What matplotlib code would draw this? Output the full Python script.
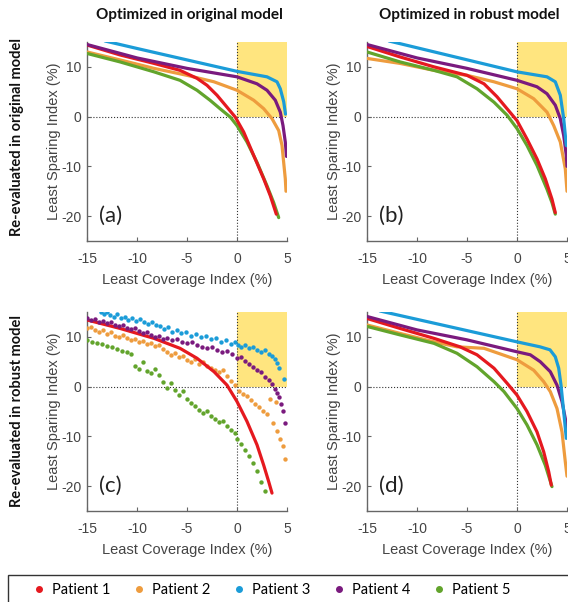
import matplotlib
matplotlib.use('Agg')
import matplotlib.pyplot as plt
from matplotlib.lines import Line2D
from matplotlib.patches import Rectangle

plt.rcParams['axes.unicode_minus'] = False

#### colours / names ####
patients = ['Patient 1', 'Patient 2', 'Patient 3', 'Patient 4', 'Patient 5']
colors = ['#E5191F', '#EE9C3E', '#1B9CD8', '#7A1A7E', '#62A42C']

col_titles = ['Optimized in original model', 'Optimized in robust model']
row_titles = ['Re-evaluated in original model', 'Re-evaluated in robust model']
panel_tags = ['(a)', '(b)', '(c)', '(d)']

#### (a) original / original ####
a_red_x = [-15, -11.7, -8.3, -5.7, -4, -3, -2, -1, -0.17, 0.67, 1.67, 2.67, 3.33, 3.93]
a_red_y = [14.4, 12.4, 10.7, 9.3, 7.7, 6.3, 4.3, 1.9, -0.1, -3.1, -7.8, -12.5, -15.9, -19.6]
a_orange_x = [-15, -11.7, -8.3, -5, -2.3, 0, 1.67, 2.67, 3.5, 4.17, 4.5, 4.83, 4.9]
a_orange_y = [13.0, 11.4, 9.7, 8.3, 7.0, 5.3, 3.3, 1.6, -0.4, -2.8, -5.8, -12.5, -15.0]
a_blue_x = [-13.2, -10, -5, 0, 3, 4, 4.33, 4.67, 4.85]
a_blue_y = [15.2, 13.7, 11.4, 9.1, 8.0, 7.0, 5.6, 3.0, 0.5]
a_purple_x = [-15, -10, -5, 0, 2, 3, 3.83, 4.33, 4.6, 4.83, 4.95]
a_purple_y = [14.5, 11.8, 9.7, 8.0, 6.6, 5.3, 3.3, 0.9, -1.8, -5.1, -8.0]
a_green_x = [-15, -11.7, -8.3, -5.7, -4, -2.7, -1.7, -0.67, 0, 1, 2, 3, 3.67, 4.17]
a_green_y = [12.7, 11.0, 9.0, 7.3, 5.3, 3.3, 1.6, -0.1, -1.8, -5.1, -9.2, -13.9, -17.3, -20.3]

#### (b) robust optimized / original ####
b_red_x = [-15, -11.7, -8.3, -5, -3.3, -2, -1, 0, 1, 2, 2.83, 3.5, 3.83]
b_red_y = [14.1, 12.0, 10.0, 8.3, 6.6, 4.0, 1.6, -0.8, -4.5, -8.5, -12.5, -16.6, -19.3]
b_orange_x = [-15, -11.7, -8.3, -5, -2.3, 0, 1.67, 3, 3.67, 4.33, 4.83, 5.0]
b_orange_y = [11.7, 10.7, 9.3, 8.3, 7.0, 5.6, 3.6, 0.9, -1.8, -5.1, -10.5, -15.0]
b_blue_x = [-12.8, 0, 3, 3.83, 4.33, 4.67, 4.93]
b_blue_y = [15.2, 9.0, 8.0, 7.0, 4.3, -0.4, -5.8]
b_purple_x = [-15, -10, -5, 0, 2, 3, 3.83, 4.33, 4.67, 4.93, 5.0]
b_purple_y = [14.5, 11.8, 9.7, 7.3, 6.0, 4.6, 2.3, -0.4, -3.8, -7.8, -10.0]
b_green_x = [-15, -11.7, -8.3, -6, -4, -2.3, -1, 0, 1, 2, 3, 3.5, 3.83]
b_green_y = [13.0, 11.0, 9.3, 8.0, 5.6, 2.9, 0.3, -2.4, -5.8, -9.8, -14.6, -17.3, -19.6]

#### (c) original optimized / robust (scattered) ####
c_red_x = [-15, -11.7, -8.3, -5.7, -4, -2.3, -1, 0, 1, 2, 2.67, 3.17, 3.5]
c_red_y = [13.4, 11.7, 9.7, 7.7, 5.7, 3.0, 0.3, -3.0, -7.0, -11.7, -15.8, -19.1, -21.4]
c_orange_x = [-15.0, -14.6, -14.2, -13.8, -13.4, -13.0, -12.6, -12.2, -11.8, -11.4,
              -11.0, -10.6, -10.2, -9.8, -9.4, -9.0, -8.6, -8.2, -7.8, -7.4,
              -7.0, -6.6, -6.2, -5.8, -5.4, -5.0, -4.6, -4.2, -3.8, -3.4,
              -3.0, -2.6, -2.2, -1.8, -1.4, -1.0, -0.6, -0.2, 0.2, 0.6,
              1.0, 1.4, 1.8, 2.2, 2.6, 3.0, 3.3, 3.6, 4.0, 4.3,
              4.6, 4.8, 3.9]
c_orange_y = [11.7, 12.0, 11.4, 11.0, 11.3, 10.6, 10.9, 10.2, 9.9, 10.3,
              9.7, 9.3, 9.6, 9.0, 9.2, 8.6, 8.8, 8.1, 8.4, 7.6,
              7.0, 6.4, 6.8, 5.9, 6.2, 5.4, 5.0, 5.6, 4.6, 4.9,
              4.2, 3.8, 3.3, 2.9, 3.4, 2.1, 1.2, 0.4, -0.8, -1.4,
              -1.9, -2.6, -3.4, -4.0, -4.8, -5.6, -2.4, -7.4, -9.0, -10.6,
              -12.0, -14.6, -3.0]
c_blue_x = [-13.6, -13.3, -13.0, -12.7, -12.3, -12.0, -11.6, -11.2, -10.9, -10.5,
            -10.1, -9.7, -9.3, -8.9, -8.5, -8.1, -7.7, -7.3, -6.9, -6.5,
            -6.0, -5.6, -5.1, -4.6, -4.1, -3.6, -3.1, -2.6, -2.1, -1.6,
            -1.1, -0.6, -0.2, 0.1, 0.4, 0.8, 1.2, 1.6, 2.0, 2.4,
            2.8, 3.2, 3.5, 3.8, 4.0, 4.2, 4.7]
c_blue_y = [15.0, 14.6, 14.9, 14.3, 14.0, 14.5, 13.7, 13.9, 13.4, 13.8,
            13.2, 13.5, 12.9, 12.6, 13.0, 12.4, 12.1, 11.6, 11.9, 11.0,
            11.3, 10.7, 10.9, 10.2, 10.5, 9.9, 10.1, 9.5, 9.7, 9.0,
            9.3, 8.6, 8.9, 8.4, 8.0, 8.3, 7.7, 7.9, 7.3, 7.0,
            7.4, 6.6, 6.2, 5.6, 4.7, 3.8, 1.6]
c_purple_x = [-15.0, -14.6, -14.2, -13.8, -13.4, -13.0, -12.6, -12.2, -11.8, -11.4,
              -11.0, -10.6, -10.2, -9.8, -9.4, -9.0, -8.6, -8.2, -7.8, -7.4,
              -7.0, -6.5, -6.0, -5.5, -5.0, -4.5, -4.0, -3.5, -3.0, -2.5,
              -2.0, -1.5, -1.0, -0.5, 0.0, 0.4, 0.8, 1.2, 1.6, 2.0,
              2.4, 2.8, 3.2, 3.5, 3.8, 4.0, 4.2, 4.4, 4.6, 4.8]
c_purple_y = [13.7, 13.3, 13.5, 13.0, 13.2, 12.7, 12.9, 12.4, 12.1, 12.3,
              11.8, 11.5, 11.7, 11.1, 10.8, 11.0, 10.4, 10.0, 10.2, 9.6,
              9.8, 9.3, 9.5, 8.9, 8.7, 8.9, 8.3, 8.0, 7.7, 7.9,
              7.3, 7.0, 7.2, 6.5, 5.7, 5.9, 5.2, 4.6, 4.0, 3.4,
              2.9, 2.0, 1.3, 0.6, -0.4, -1.2, -2.0, -3.4, -4.8, -7.4]
c_green_x = [-15.0, -14.5, -14.0, -13.5, -13.0, -12.5, -12.0, -11.5, -11.0, -10.6,
             -10.2, -9.8, -9.4, -9.0, -8.6, -8.2, -7.8, -7.4, -7.0, -6.6,
             -6.2, -5.8, -5.4, -5.0, -4.6, -4.2, -3.8, -3.4, -3.0, -2.6,
             -2.2, -1.8, -1.4, -1.0, -0.6, -0.2, 0.0, 0.4, 0.8, 1.2,
             1.6, 2.0, 2.4, 2.8]
c_green_y = [9.4, 9.0, 8.8, 8.5, 8.2, 7.9, 7.6, 7.2, 7.0, 6.6,
             4.2, 3.6, 5.0, 3.2, 2.8, 3.6, 2.4, 1.0, -0.2, 0.8,
             -0.6, -1.6, -0.9, -2.4, -3.2, -3.8, -4.6, -5.4, -4.9, -6.0,
             -6.6, -7.2, -7.0, -8.0, -8.8, -9.4, -10.6, -11.6, -12.8, -14.0,
             -15.4, -17.0, -19.2, -21.0]

#### (d) robust / robust ####
d_red_x = [-15, -11.7, -8.3, -5.7, -4, -2.3, -1, 0, 1, 2, 2.67, 3.17, 3.43]
d_red_y = [13.7, 11.7, 9.7, 8.0, 6.4, 3.7, 0.7, -1.7, -5.0, -9.1, -13.1, -17.1, -19.8]
d_orange_x = [-15, -11.7, -8.3, -6, -3.3, 0, 1.67, 2.67, 3.33, 4, 4.5, 4.83, 5.0]
d_orange_y = [12.4, 10.7, 9.0, 8.0, 7.7, 5.4, 3.3, 1.0, -1.0, -4.4, -9.1, -15.1, -18.0]
d_blue_x = [-13.7, 0, 2.3, 3.3, 3.83, 4.17, 4.4, 4.67, 4.93]
d_blue_y = [15.2, 9.0, 8.0, 7.4, 6.0, 3.7, 0.3, -5.0, -10.4]
d_purple_x = [-15, -10, -5, 0, 1.33, 2.33, 3.33, 4, 4.5, 4.83, 5.0]
d_purple_y = [14.1, 11.4, 9.4, 7.0, 6.4, 5.0, 3.0, 0.3, -3.0, -6.4, -10.0]
d_green_x = [-15, -11.7, -8.3, -6, -4, -2.3, -1.3, 0, 1, 2, 2.83, 3.5]
d_green_y = [12.1, 10.4, 8.7, 6.7, 4.0, 1.0, -1.0, -4.4, -7.7, -11.7, -15.8, -20.1]

# series in each panel: patient 1..5
panels = [
    [(a_red_x, a_red_y), (a_orange_x, a_orange_y), (a_blue_x, a_blue_y), (a_purple_x, a_purple_y), (a_green_x, a_green_y)],
    [(b_red_x, b_red_y), (b_orange_x, b_orange_y), (b_blue_x, b_blue_y), (b_purple_x, b_purple_y), (b_green_x, b_green_y)],
    [(c_red_x, c_red_y), (c_orange_x, c_orange_y), (c_blue_x, c_blue_y), (c_purple_x, c_purple_y), (c_green_x, c_green_y)],
    [(d_red_x, d_red_y), (d_orange_x, d_orange_y), (d_blue_x, d_blue_y), (d_purple_x, d_purple_y), (d_green_x, d_green_y)],
]
draw_order = [1, 4, 0, 3, 2]

W, H = 568, 602
fig = plt.figure(figsize=(W / 100, H / 100), dpi=100)

boxes = [(87, 42), (367, 42), (87, 312), (367, 312)]
ax_w, ax_h = 200, 199

tick_font = dict(family='Liberation Sans', size=10, color='#444444')
lab_font = dict(family='Liberation Sans', size=10.5, color='#444444')

for k, (px, py) in enumerate(boxes):
    ax = fig.add_axes([px / W, 1 - (py + ax_h) / H, ax_w / W, ax_h / H])
    ax.set_xlim(-15, 5)
    ax.set_ylim(-25, 15)
    ax.fill_between([0, 5], 0, 15, color='#FFE57F', zorder=0, lw=0)
    ax.axvline(0, color='#333333', ls=':', lw=0.8, zorder=1)
    ax.axhline(0, color='#333333', ls=':', lw=0.8, zorder=1)

    for i in draw_order:
        xs, ys = panels[k][i]
        if k == 2 and i != 0:
            ax.scatter(xs, ys, s=10, color=colors[i], zorder=3, lw=0)
        else:
            ax.plot(xs, ys, color=colors[i], lw=2.3, zorder=3, solid_capstyle='round',
                    solid_joinstyle='round')

    ax.text(-13.8, -20, panel_tags[k], fontsize=16, family='Lato', color='#222222', va='center')

    for s in ['top', 'right']:
        ax.spines[s].set_visible(False)
    for s in ['left', 'bottom']:
        ax.spines[s].set_color('#666666')
        ax.spines[s].set_linewidth(1.0)
    ax.set_xticks([-15, -10, -5, 0, 5])
    ax.set_yticks([-20, -10, 0, 10])
    ax.tick_params(direction='in', length=3, color='#666666')
    ax.tick_params(axis='x', pad=8)
    ax.tick_params(axis='y', pad=4)
    for lbl in ax.get_xticklabels() + ax.get_yticklabels():
        lbl.set_fontfamily(tick_font['family'])
        lbl.set_fontsize(tick_font['size'])
        lbl.set_color(tick_font['color'])
    ax.set_xlabel('Least Coverage Index (%)', labelpad=5, **lab_font)
    ax.set_ylabel('Least Sparing Index (%)', labelpad=0, **lab_font)

# column titles
fig.text(189 / W, 1 - 15 / H, col_titles[0], ha='center', va='center',
         family='Lato', fontweight='bold', fontsize=11, color='#111111')
fig.text(469 / W, 1 - 15 / H, col_titles[1], ha='center', va='center',
         family='Lato', fontweight='bold', fontsize=11, color='#111111')
# row titles
fig.text(17 / W, 1 - 137 / H, row_titles[0], ha='center', va='center', rotation=90,
         family='Lato', fontweight='bold', fontsize=10.5, color='#111111')
fig.text(17 / W, 1 - 411 / H, row_titles[1], ha='center', va='center', rotation=90,
         family='Lato', fontweight='bold', fontsize=10.5, color='#111111')

# legend box
fig.patches.append(Rectangle((8 / W, -0.02), 1.0, (H - 575) / H + 0.02,
                             transform=fig.transFigure, fill=False,
                             edgecolor='#333333', lw=1.0))
handles = [Line2D([], [], ls='', marker='o', ms=4, color=c) for c in colors]
fig.legend(handles, patients, loc='center left', bbox_to_anchor=(20 / W, 1 - 590 / H),
           ncol=5, frameon=False, handlelength=0.8, handletextpad=0.5,
           columnspacing=1.55, prop={'family': 'Lato', 'size': 10.5})

fig.savefig('out.png', dpi=100)
